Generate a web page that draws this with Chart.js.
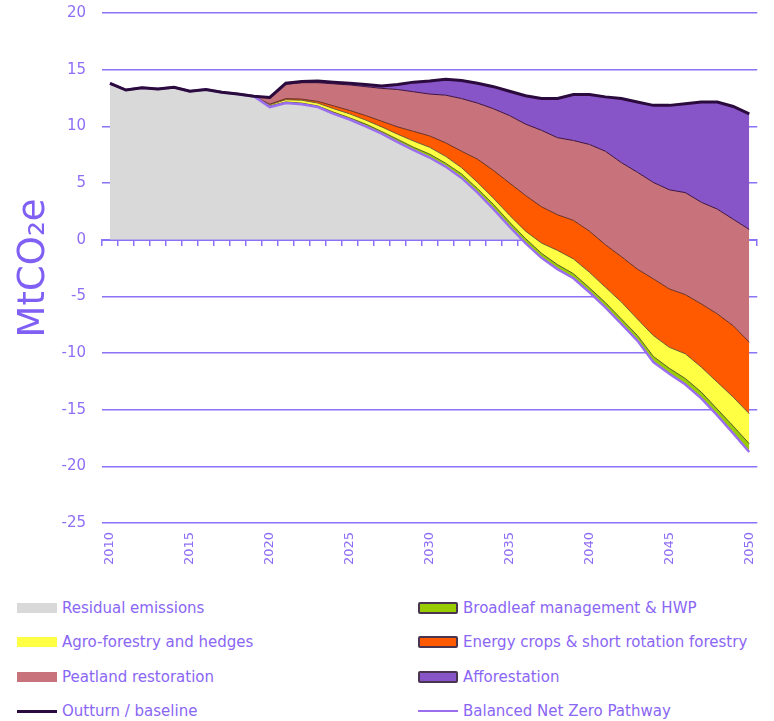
<!DOCTYPE html>
<html>
<head>
<meta charset="utf-8">
<script src="https://cdn.jsdelivr.net/npm/chart.js@4.4.1/dist/chart.umd.min.js"></script>
<style>
    html, body { margin: 0; padding: 0; background: #fff; }
    body { width: 774px; height: 721px; overflow: hidden; position: relative; font-family: 'DejaVu Sans', sans-serif; }
    #chart { position: absolute; left: 0; top: -12px; }
    #legend {
        position: absolute; left: 17px; top: 591px; width: 757px;
        display: grid; grid-template-columns: 401px 356px; grid-auto-rows: 34.3px;
    }
    .item { display: flex; align-items: center; white-space: nowrap; overflow: hidden; color: #8a66f4; font-size: 15px; }
    .swatch { width: 40px; height: 10px; margin-right: 5px; box-sizing: border-box; flex: none; }
</style>
</head>
<body>
<canvas id="chart" width="774" height="592"></canvas>
<div id="legend"></div>
<script>
const years = [2010, 2011, 2012, 2013, 2014, 2015, 2016, 2017, 2018, 2019,
    2020, 2021, 2022, 2023, 2024, 2025, 2026, 2027, 2028, 2029,
    2030, 2031, 2032, 2033, 2034, 2035, 2036, 2037, 2038, 2039,
    2040, 2041, 2042, 2043, 2044, 2045, 2046, 2047, 2048, 2049, 2050];

// upper edge of each band, MtCO2e (bands stack up from the net pathway)
const netPathway = [13.8, 13.2, 13.4, 13.3, 13.45, 13.1, 13.25, 13.0, 12.85, 12.65,
    11.7, 12.05, 11.95, 11.7, 11.1, 10.6, 10.0, 9.35, 8.6, 7.9,
    7.25, 6.45, 5.45, 4.15, 2.7, 1.15, -0.3, -1.6, -2.6, -3.4,
    -4.64, -5.97, -7.43, -8.9, -10.8, -11.83, -12.78, -14.0, -15.5, -17.1, -18.74];

const broadleafTop = [null, null, null, null, null, null, null, null, null, 12.65,
    11.8, 12.15, 12.05, 11.8, 11.25, 10.75, 10.2, 9.55, 8.85, 8.15,
    7.55, 6.75, 5.8, 4.5, 3.1, 1.55, 0.1, -1.2, -2.2, -3.0,
    -4.25, -5.55, -7.0, -8.45, -10.3, -11.35, -12.25, -13.45, -14.95, -16.45, -18.0];

const agroTop = [null, null, null, null, null, null, null, null, null, 12.65,
    11.9, 12.35, 12.3, 12.05, 11.55, 11.1, 10.55, 9.95, 9.3, 8.7,
    8.15, 7.35, 6.35, 5.05, 3.65, 2.15, 0.75, -0.3, -0.95, -1.7,
    -2.88, -4.2, -5.5, -7.0, -8.46, -9.5, -10.07, -11.25, -12.57, -13.9, -15.36];

const energyTop = [null, null, null, null, null, null, null, null, null, 12.65,
    11.95, 12.45, 12.4, 12.2, 11.8, 11.4, 10.95, 10.45, 9.95, 9.55,
    9.15, 8.55, 7.8, 7.1, 6.1, 5.0, 3.9, 2.9, 2.2, 1.7,
    0.75, -0.45, -1.5, -2.6, -3.46, -4.35, -4.85, -5.67, -6.55, -7.6, -9.05];

const peatTop = [null, null, null, null, null, null, null, null, null, 12.65,
    12.5, 13.7, 13.85, 13.85, 13.75, 13.65, 13.5, 13.35, 13.25, 13.05,
    12.85, 12.75, 12.45, 12.05, 11.55, 10.95, 10.2, 9.65, 9.0, 8.75,
    8.4, 7.8, 6.8, 5.95, 5.05, 4.4, 4.15, 3.3, 2.7, 1.8, 0.9];

const baseline = [13.8, 13.2, 13.4, 13.3, 13.45, 13.1, 13.25, 13.0, 12.85, 12.65,
    12.55, 13.8, 13.95, 14.0, 13.9, 13.8, 13.7, 13.55, 13.7, 13.9,
    14.0, 14.15, 14.05, 13.8, 13.5, 13.1, 12.7, 12.45, 12.45, 12.8,
    12.8, 12.6, 12.45, 12.15, 11.85, 11.85, 12.0, 12.15, 12.15, 11.75, 11.1];

const afforestationTop = baseline.map(function (v, i) { return i < 9 ? null : v; });

const yTicks = { min: -25, max: 20, step: 5 };

const axisPurple = '#8c72f6';
const textPurple = '#8f6ef6';
const font = "'DejaVu Sans', sans-serif";

const datasets = [
    { label: 'Balanced Net Zero Pathway', data: netPathway, borderColor: '#9b6ef0', borderWidth: 2.5,
      fill: false, order: 1, legendKind: 'line' },
    { label: 'Broadleaf management & HWP', data: broadleafTop, backgroundColor: '#99cc00',
      borderColor: '#3d3d20', borderWidth: 0.8, fill: '-1', order: 3, legendKind: 'boxBorder' },
    { label: 'Agro-forestry and hedges', data: agroTop, backgroundColor: '#ffff44',
      borderColor: '#4a3a2a', borderWidth: 0.8, fill: '-1', order: 4, legendKind: 'box' },
    { label: 'Energy crops & short rotation forestry', data: energyTop, backgroundColor: '#ff5a00',
      borderColor: '#4a1a14', borderWidth: 0.8, fill: '-1', order: 5, legendKind: 'boxBorder' },
    { label: 'Peatland restoration', data: peatTop, backgroundColor: '#c8737b',
      borderColor: '#3a1040', borderWidth: 1, fill: '-1', order: 6, legendKind: 'box' },
    { label: 'Afforestation', data: afforestationTop, backgroundColor: '#8855c8',
      borderColor: '#2a0b3c', borderWidth: 1, fill: '-1', order: 7, legendKind: 'boxBorder' },
    { label: 'Residual emissions', data: netPathway, backgroundColor: '#d9d9d9', borderWidth: 0,
      borderColor: 'rgba(0,0,0,0)',
      fill: { target: 'origin', above: '#d9d9d9', below: 'rgba(0,0,0,0)' }, order: 9, legendKind: 'box' },
    { label: 'Outturn / baseline', data: baseline, borderColor: '#2b0b3d', borderWidth: 3,
      fill: false, order: 0, legendKind: 'line' }
];

datasets.forEach(function (d) {
    d.pointRadius = 0;
    d.tension = 0;
});

const chart = new Chart(document.getElementById('chart'), {
    type: 'line',
    data: { labels: years, datasets: datasets },
    options: {
        responsive: false,
        animation: false,
        layout: { padding: { top: 0, right: 13, bottom: 0, left: 0 } },
        plugins: {
            legend: { display: false },
            tooltip: { enabled: false }
        },
        scales: {
            x: {
                type: 'category',
                offset: true,
                grid: { display: false, drawTicks: false },
                border: { display: false },
                ticks: {
                    color: textPurple,
                    font: { family: font, size: 13 },
                    minRotation: 90,
                    maxRotation: 90,
                    autoSkip: false,
                    padding: 9,
                    callback: function (value) {
                        const yr = Number(this.getLabelForValue(value));
                        return yr % 5 === 0 ? String(yr) : '';
                    }
                },
                afterFit: function (scale) { scale.height = 57; }
            },
            x0: {
                type: 'category',
                position: { y: 0 },
                offset: true,
                z: 1,
                grid: { drawOnChartArea: false, drawTicks: true, tickLength: 5, offset: true,
                        color: axisPurple, lineWidth: 1.5 },
                border: { display: true, color: axisPurple, width: 2 },
                ticks: { display: false, autoSkip: false }
            },
            y: {
                min: yTicks.min,
                max: yTicks.max,
                ticks: {
                    stepSize: yTicks.step,
                    color: textPurple,
                    font: { family: font, size: 15 },
                    padding: 16
                },
                grid: { color: axisPurple, lineWidth: 1.5, drawTicks: false },
                border: { display: false },
                title: {
                    display: true,
                    text: 'MtCO\u2082e',
                    color: '#8060f4',
                    font: { family: font, size: 37 },
                    padding: { top: 12, bottom: 0 }
                },
                afterFit: function (scale) { scale.width = 102; }
            }
        }
    }
});

// two column legend below the plot, in the order the chart lists it
const legendOrder = ['Residual emissions', 'Broadleaf management & HWP', 'Agro-forestry and hedges',
    'Energy crops & short rotation forestry', 'Peatland restoration', 'Afforestation',
    'Outturn / baseline', 'Balanced Net Zero Pathway'];
const legend = document.getElementById('legend');

legendOrder.forEach(function (name) {
    const ds = chart.data.datasets.find(function (d) { return d.label === name; });
    const item = document.createElement('div');
    item.className = 'item';
    const sw = document.createElement('span');
    sw.className = 'swatch';
    if (ds.legendKind === 'line') {
        sw.style.height = (ds.borderWidth >= 3 ? 3 : 2) + 'px';
        sw.style.background = ds.borderColor;
    } else {
        sw.style.background = ds.backgroundColor;
        if (ds.legendKind === 'boxBorder') {
            sw.style.height = '12px';
            sw.style.border = '2px solid #4a3550';
            sw.style.borderRadius = '2px';
        }
    }
    const txt = document.createElement('span');
    txt.textContent = name;
    item.appendChild(sw);
    item.appendChild(txt);
    legend.appendChild(item);
});
</script>
</body>
</html>
